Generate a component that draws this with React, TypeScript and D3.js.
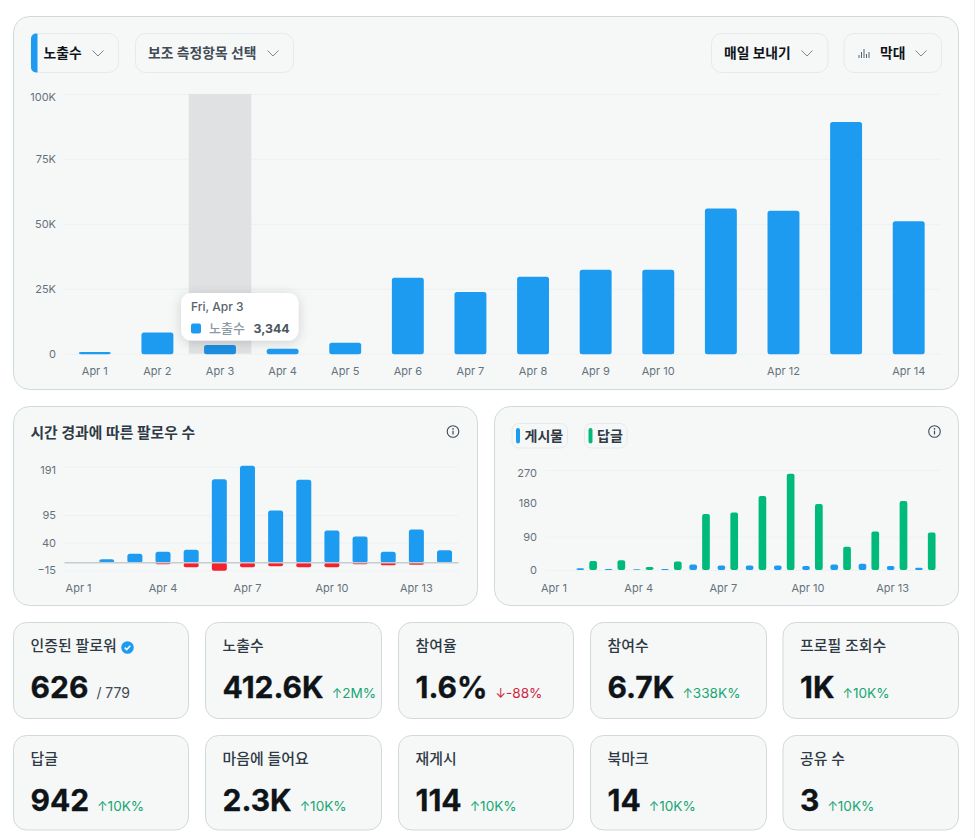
import * as d3 from "d3";
import React, { useEffect, useRef } from "react";

// values
const days = ["Apr 1", "Apr 2", "Apr 3", "Apr 4", "Apr 5", "Apr 6", "Apr 7", "Apr 8", "Apr 9", "Apr 10", "Apr 11", "Apr 12", "Apr 13", "Apr 14"];
const impressions = [700, 8200, 3344, 1900, 4200, 29200, 23800, 29600, 32300, 32300, 55900, 55000, 89200, 51000];
const impressionTicks = [0, 25000, 50000, 75000, 100000];
const impressionDayTicks = ["Apr 1", "Apr 2", "Apr 3", "Apr 4", "Apr 5", "Apr 6", "Apr 7", "Apr 8", "Apr 9", "Apr 10", "Apr 12", "Apr 14"];

const followsGained = [0, 7, 18, 22, 26, 166, 193, 104, 165, 64, 52, 22, 66, 25];
const followsLost = [0, 0, 0, 3, 9, 16, 9, 7, 9, 9, 3, 5, 4, 0];
const followTicks = [-15, 40, 95, 191];

const posts = [0, 5, 3, 2, 3, 15, 12, 12, 12, 11, 15, 17, 11, 6];
const replies = [0, 24, 26, 8, 23, 151, 155, 200, 260, 178, 63, 104, 186, 101];
const replyTicks = [0, 90, 180, 270];
const everyThirdDay = ["Apr 1", "Apr 4", "Apr 7", "Apr 10", "Apr 13"];

const kpiTitles = ["인증된 팔로워", "노출수", "참여율", "참여수", "프로필 조회수", "답글", "마음에 들어요", "재게시", "북마크", "공유 수"];
const kpiValues = ["626", "412.6K", "1.6%", "6.7K", "1K", "942", "2.3K", "114", "14", "3"];
const kpiDeltas = ["/ 779", "↑2M%", "↓-88%", "↑338K%", "↑10K%", "↑10K%", "↑10K%", "↑10K%", "↑10K%", "↑10K%"];

const BLUE = "#1d9bf0";
const GREEN = "#00ba7c";
const RED = "#f4212e";
const CARD = "#f6f8f8";
const BORDER = "#cfd9de";
const GRID = "#eef1f2";
const TICK = "#66727b";
const FONT = `Inter, "Noto Sans CJK KR", sans-serif`;

type Sel = d3.Selection<SVGGElement, unknown, null, undefined>;

function card(g: Sel, x0: number, y0: number, x1: number, y1: number, r = 16) {
  g.append("rect").attr("x", x0).attr("y", y0).attr("width", x1 - x0).attr("height", y1 - y0)
    .attr("rx", r).attr("fill", CARD).attr("stroke", BORDER).attr("stroke-width", 1);
}

function chevron(g: Sel, cx: number, cy: number) {
  g.append("path").attr("d", `M${cx - 5.5},${cy - 2.5}L${cx},${cy + 3}L${cx + 5.5},${cy - 2.5}`)
    .attr("fill", "none").attr("stroke", "#7b868f").attr("stroke-width", 1);
}

function button(g: Sel, x0: number, x1: number, label: string, textX: number, color: string, weight: number) {
  g.append("rect").attr("x", x0).attr("y", 33.5).attr("width", x1 - x0).attr("height", 39)
    .attr("rx", 10).attr("fill", CARD).attr("stroke", "#e6eaec");
  g.append("text").attr("x", textX).attr("y", 53).attr("dy", "0.36em").attr("font-family", FONT)
    .attr("font-size", 13.8).attr("font-weight", weight).attr("fill", color).text(label);
}

function infoIcon(g: Sel, cx: number, cy: number) {
  g.append("circle").attr("cx", cx).attr("cy", cy).attr("r", 5.8).attr("fill", "none").attr("stroke", "#3f4a53").attr("stroke-width", 1.1);
  g.append("line").attr("x1", cx).attr("x2", cx).attr("y1", cy - 0.8).attr("y2", cy + 3).attr("stroke", "#3f4a53").attr("stroke-width", 1.2);
  g.append("circle").attr("cx", cx).attr("cy", cy - 2.6).attr("r", 0.8).attr("fill", "#3f4a53");
}

function pill(g: Sel, x0: number, x1: number, label: string, color: string) {
  g.append("rect").attr("x", x0).attr("y", 423.5).attr("width", x1 - x0).attr("height", 24.5)
    .attr("rx", 7).attr("fill", CARD).attr("stroke", "#e6eaec");
  g.append("rect").attr("x", x0 + 4).attr("y", 428).attr("width", 4).attr("height", 15.5).attr("rx", 2).attr("fill", color);
  g.append("text").attr("x", x0 + 12.5).attr("y", 436).attr("dy", "0.36em").attr("font-family", FONT)
    .attr("font-size", 14).attr("font-weight", 600).attr("fill", "#2f3a44").text(label);
}

// tick text + gridlines, styled the same on all three charts; top label sits below its line
function styleYAxis(axis: Sel, gridTo: number, topTick: number) {
  axis.select(".domain").remove();
  axis.selectAll(".tick line").attr("x1", 8).attr("x2", gridTo).attr("stroke", GRID);
  axis.selectAll<SVGTextElement, number>(".tick text")
    .attr("x", 0).attr("fill", TICK).attr("font-family", FONT).attr("font-size", 11)
    .attr("transform", (d) => (d === topTick ? "translate(0,3)" : null));
}

function styleXAxis(axis: Sel, dx = 0) {
  axis.select(".domain").remove();
  axis.selectAll(".tick line").remove();
  axis.selectAll(".tick text").attr("dx", dx).attr("fill", TICK).attr("font-family", FONT).attr("font-size", 11);
}

const App: React.FC = () => {
  const svgRef = useRef<SVGSVGElement>(null);

  useEffect(() => {
    if (!svgRef.current) return;
    const svg = d3.select(svgRef.current);
    svg.selectAll("*").remove();

    const defs = svg.append("defs");
    const shadow = defs.append("filter").attr("id", "tip-shadow").attr("x", "-30%").attr("y", "-50%").attr("width", "160%").attr("height", "200%");
    shadow.append("feDropShadow").attr("dx", 0).attr("dy", 2).attr("stdDeviation", 6).attr("flood-color", "#0f1419").attr("flood-opacity", 0.16);

    const root = svg.append("g") as unknown as Sel;

    // page edge on the right
    root.append("line").attr("x1", 974.5).attr("x2", 974.5).attr("y1", 0).attr("y2", 838).attr("stroke", "#efefef");

    // ---- main chart
    card(root, 13.5, 16.5, 958.5, 389.5);
    button(root, 31, 118.5, "노출수", 43.5, "#0f1419", 700);
    root.append("path").attr("d", "M37.5,33.5 h-1.5 a5,5 0 0 0 -5,5 v29 a5,5 0 0 0 5,5 h1.5 z").attr("fill", BLUE);
    chevron(root, 98, 53);
    button(root, 135.5, 293.5, "보조 측정항목 선택", 148, "#414c55", 600);
    chevron(root, 273, 53);
    button(root, 711.5, 828, "매일 보내기", 724, "#0f1419", 700);
    chevron(root, 807, 53);
    button(root, 844, 941.5, "막대", 880, "#0f1419", 700);
    chevron(root, 921, 53);
    [[859, 3], [861.5, 6], [864, 9], [866.5, 4], [869, 6]].forEach(([x, h]) => {
      root.append("line").attr("x1", x).attr("x2", x).attr("y1", 58).attr("y2", 58 - h).attr("stroke", "#536471");
    });

    const mainX = d3.scaleBand<string>().domain(days).range([63.5, 940]).paddingInner(0.49).paddingOuter(0.245);
    const mainY = d3.scaleLinear().domain([0, 100000]).range([353.7, 94]);

    const mainYAxis = root.append("g").attr("transform", "translate(56,0)") as unknown as Sel;
    mainYAxis.call(d3.axisLeft(mainY).tickValues(impressionTicks).tickFormat((d) => (+d === 0 ? "0" : `${+d / 1000}K`)) as any);
    styleYAxis(mainYAxis, 884, 100000);

    // hovered day
    const hoverDay = "Apr 3";
    const hoverX = (mainX(hoverDay) as number) + mainX.bandwidth() / 2 - mainX.step() / 2;
    root.append("rect").attr("x", hoverX).attr("y", mainY(100000)).attr("width", mainX.step()).attr("height", mainY(0) - mainY(100000)).attr("fill", "#dfe1e3");

    root.append("g").selectAll("rect").data(impressions).join("rect")
      .attr("x", (_, i) => mainX(days[i]) as number)
      .attr("y", (d) => mainY(d))
      .attr("width", mainX.bandwidth())
      .attr("height", (d) => mainY(0) - mainY(d) + 0.6)
      .attr("rx", 2.5)
      .attr("fill", (_, i) => (days[i] === hoverDay ? "#1c8ee0" : BLUE));

    const mainXAxis = root.append("g").attr("transform", "translate(0,364.5)") as unknown as Sel;
    mainXAxis.call(d3.axisBottom(mainX).tickValues(impressionDayTicks).tickSize(0) as any);
    styleXAxis(mainXAxis);

    // tooltip
    root.append("rect").attr("x", 181).attr("y", 293).attr("width", 117.5).attr("height", 47.5).attr("rx", 10)
      .attr("fill", "#fff").attr("filter", "url(#tip-shadow)");
    root.append("text").attr("x", 191).attr("y", 307).attr("dy", "0.36em").attr("font-family", FONT).attr("font-size", 12).attr("font-weight", 500).attr("fill", "#59636c").text("Fri, Apr 3");
    root.append("rect").attr("x", 191).attr("y", 323.5).attr("width", 10).attr("height", 10).attr("rx", 2).attr("fill", BLUE);
    root.append("text").attr("x", 209).attr("y", 328.5).attr("dy", "0.36em").attr("font-family", FONT).attr("font-size", 13).attr("font-weight", 500).attr("fill", "#8b98a5").text("노출수");
    root.append("text").attr("x", 253.5).attr("y", 328.5).attr("dy", "0.36em").attr("font-family", FONT).attr("font-size", 12.3).attr("font-weight", 700).attr("fill", "#4b555d").text("3,344");

    // ---- followers over time
    card(root, 13.5, 406.5, 477.5, 605.5);
    root.append("text").attr("x", 30.5).attr("y", 433).attr("dy", "0.36em").attr("font-family", FONT).attr("font-size", 14.8).attr("font-weight", 600).attr("fill", "#2f3a44").text("시간 경과에 따른 팔로우 수");
    infoIcon(root, 453, 431.5);

    const followX = d3.scaleBand<string>().domain(days).range([64.5, 458.6]).paddingInner(0.467).paddingOuter(0.2335);
    const followY = d3.scaleLinear().domain([-15, 191]).range([570.3, 466.7]);

    const followYAxis = root.append("g").attr("transform", "translate(56,0)") as unknown as Sel;
    followYAxis.call(d3.axisLeft(followY).tickValues(followTicks) as any);
    styleYAxis(followYAxis, 402, 191);

    root.append("g").selectAll("rect").data(followsGained).join("rect")
      .attr("x", (_, i) => followX(days[i]) as number)
      .attr("y", (d) => followY(d))
      .attr("width", followX.bandwidth())
      .attr("height", (d) => followY(0) - followY(d))
      .attr("rx", 2.5)
      .attr("fill", BLUE);
    root.append("g").selectAll("rect").data(followsLost).join("rect")
      .attr("x", (_, i) => followX(days[i]) as number)
      .attr("y", followY(0))
      .attr("width", followX.bandwidth())
      .attr("height", (d) => followY(-d) - followY(0))
      .attr("rx", 2)
      .attr("fill", RED);
    root.append("line").attr("x1", 64.5).attr("x2", 458.5).attr("y1", followY(0)).attr("y2", followY(0)).attr("stroke", "#c4ccd2").attr("stroke-width", 1.6);

    const followXAxis = root.append("g").attr("transform", "translate(0,581)") as unknown as Sel;
    followXAxis.call(d3.axisBottom(followX).tickValues(everyThirdDay).tickSize(0) as any);
    styleXAxis(followXAxis);

    // ---- posts and replies
    card(root, 494.5, 406.5, 958.5, 605.5);
    pill(root, 512, 567.5, "게시물", BLUE);
    pill(root, 584.5, 627, "답글", GREEN);
    infoIcon(root, 934.5, 431.5);

    const replyX = d3.scaleBand<string>().domain(days).range([544.4, 939.4]);
    const replyGroup = d3.scaleBand<string>().domain(["posts", "replies"]).range([0, replyX.bandwidth()]).paddingInner(0.4).paddingOuter(0.3);
    const replyY = d3.scaleLinear().domain([0, 270]).range([570, 470]);

    const replyYAxis = root.append("g").attr("transform", "translate(537,0)") as unknown as Sel;
    replyYAxis.call(d3.axisLeft(replyY).tickValues(replyTicks) as any);
    styleYAxis(replyYAxis, 403, 270);
    // 180 has a label but no line in the reference
    replyYAxis.selectAll<SVGGElement, number>(".tick").filter((d) => d === 180).select("line").remove();

    ([["posts", posts, BLUE], ["replies", replies, GREEN]] as [string, number[], string][]).forEach(([key, vals, color]) => {
      root.append("g").selectAll("rect").data(vals).join("rect")
        .attr("x", (_, i) => (replyX(days[i]) as number) + (replyGroup(key) as number))
        .attr("y", (d) => replyY(d))
        .attr("width", replyGroup.bandwidth())
        .attr("height", (d) => replyY(0) - replyY(d))
        .attr("rx", 2)
        .attr("fill", color);
    });

    const replyXAxis = root.append("g").attr("transform", "translate(0,581)") as unknown as Sel;
    replyXAxis.call(d3.axisBottom(replyX).tickValues(everyThirdDay).tickSize(0) as any);
    styleXAxis(replyXAxis, -4.5);

    // ---- kpi tiles
    const tileX = [[13.5, 188.5], [205.5, 381.5], [398.5, 573.5], [590.5, 766.5], [783, 958.5]];
    const tileY = [[622.5, 718.5], [735.5, 830]];
    kpiTitles.forEach((title, i) => {
      const [x0, x1] = tileX[i % 5];
      const [y0, y1] = tileY[Math.floor(i / 5)];
      card(root, x0, y0, x1, y1, 13);
      root.append("text").attr("x", x0 + 17).attr("y", y0 + 23.5).attr("dy", "0.36em").attr("font-family", FONT)
        .attr("font-size", 14.9).attr("font-weight", 500).attr("fill", "#2f3a44").text(title);

      const delta = kpiDeltas[i];
      const color = delta.startsWith("/") ? "#3f4a53" : delta.startsWith("↓") ? "#d0263f" : "#17a673";
      const line = root.append("text").attr("x", x0 + 17).attr("y", y0 + 75).attr("font-family", FONT);
      line.append("tspan").attr("font-size", 30).attr("font-weight", 700).attr("fill", "#0f1419")
        .attr("stroke", "#0f1419").attr("stroke-width", 0.3).text(kpiValues[i]);
      if (delta.startsWith("/")) {
        line.append("tspan").attr("dx", 8).attr("font-size", 14).attr("fill", color).text(delta);
      } else {
        line.append("tspan").attr("dx", 8).attr("font-size", 12.5).attr("fill", color).text(delta[0]);
        line.append("tspan").attr("font-size", 13.6).attr("fill", color).text(delta.slice(1));
      }
    });

    // verified badge
    root.append("circle").attr("cx", 127.5).attr("cy", 647.5).attr("r", 6.3).attr("fill", BLUE);
    root.append("path").attr("d", "M124.7,647.6l2,2l3.6,-3.9").attr("fill", "none").attr("stroke", "#fff").attr("stroke-width", 1.5);
  }, []);

  return <svg ref={svgRef} width={977} height={838} style={{ position: "absolute", left: 0, top: 0, background: "#fff" }} />;
};

export default App;
